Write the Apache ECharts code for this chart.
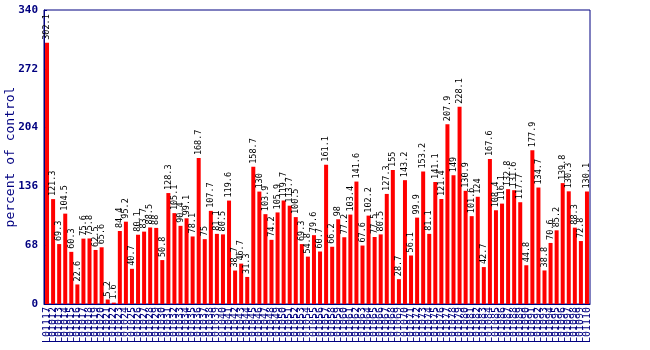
<!DOCTYPE html>
<html>
<head>
<meta charset="utf-8">
<script src="https://cdn.jsdelivr.net/npm/echarts@6/dist/echarts.min.js"></script>
<style>html,body{margin:0;padding:0;background:#fff}#c{width:650px;height:350px}</style>
</head>
<body>
<div id="c"></div>
<script>
var categories = [
  "L01117","L01012","L01013","L01014","L01015","L01016","L01017","L01018","L01019","L01020",
  "L01021","L01022","L01023","L01024","L01025","L01026","L01027","L01028","L01029","L01030",
  "L01031","L01032","L01033","L01034","L01035","L01036","L01037","L01038","L01039","L01040",
  "L01041","L01042","L01043","L01044","L01045","L01046","L01047","L01048","L01049","L01050",
  "L01051","L01052","L01053","L01054","L01055","L01056","L01057","L01058","L01059","L01060",
  "L01061","L01062","L01063","L01064","L01065","L01066","L01067","L01068","L01069","L01070",
  "L01071","L01072","L01073","L01074","L01075","L01076","L01077","L01078","L01079","L01080",
  "L01081","L01082","L01083","L01084","L01085","L01086","L01087","L01088","L01089","L01090",
  "L01091","L01092","L01093","L01094","L01095","L01096","L01097","L01098","L01099","L01110"
];
var values = [
  302.1,121.3,69.3,104.5,60.3,22.6,75.6,75.8,62.5,65.6,
  5.2,1.6,84.4,95.2,40.7,80.1,83.7,88.5,88,50.8,
  128.3,105.1,90.4,99.1,78.1,168.7,75,107.7,81.1,80.5,
  119.6,38.7,46.7,31.3,158.7,130,103.9,74.2,105.9,119.7,
  113.7,100.5,69.3,54.8,79.6,60.7,161.1,66.2,98,77.2,
  103.4,141.6,67.6,102.2,77.5,80.5,127.3,155,28.7,143.2,
  56.1,99.9,153.2,81.1,141.1,121.4,207.9,149,228.1,130.9,
  101.6,124,42.7,167.6,108.4,116.1,132.8,131.6,117.7,44.8,
  177.9,134.7,38.8,70.6,85.2,139.8,130.3,88.3,72.8,130.1
];
var yTicks = [0, 68, 136, 204, 272, 340];

var navy = '#000080';
var chart = echarts.init(document.getElementById('c'), null, {renderer: 'canvas'});
chart.setOption({
  animation: false,
  grid: {left: 44, right: 60, top: 10, bottom: 46, show: true, borderColor: navy, borderWidth: 1, backgroundColor: 'transparent', containLabel: false, outerBoundsMode: 'none'},
  xAxis: {
    type: 'category',
    data: categories,
    boundaryGap: true,
    axisLine: {lineStyle: {color: navy, width: 1}},
    axisTick: {show: false},
    axisLabel: {interval: 0, rotate: 90, color: navy, fontFamily: 'DejaVu Sans Mono', fontSize: 10, margin: 3}
  },
  yAxis: {
    type: 'value',
    min: yTicks[0], max: yTicks[yTicks.length - 1], interval: 68,
    name: 'percent of control',
    nameLocation: 'middle',
    nameGap: 27,
    nameMoveOverlap: false,
    nameTextStyle: {color: navy, fontFamily: 'DejaVu Sans Mono', fontSize: 13},
    axisLine: {show: true, lineStyle: {color: navy, width: 1}},
    axisTick: {show: true, inside: true, length: 3, lineStyle: {color: navy}},
    splitLine: {show: false},
    axisLabel: {color: navy, fontFamily: 'DejaVu Sans Mono', fontSize: 11, fontWeight: 'bold', margin: 6}
  },
  series: [{
    type: 'bar',
    data: values,
    barWidth: 4,
    itemStyle: {color: '#ff0000'},
    label: {
      show: true,
      position: 'top',
      rotate: 90,
      align: 'left',
      verticalAlign: 'middle',
      distance: 3,
      color: '#000',
      fontFamily: 'DejaVu Sans Mono',
      fontSize: 8.5
    }
  }]
});
</script>
</body>
</html>
